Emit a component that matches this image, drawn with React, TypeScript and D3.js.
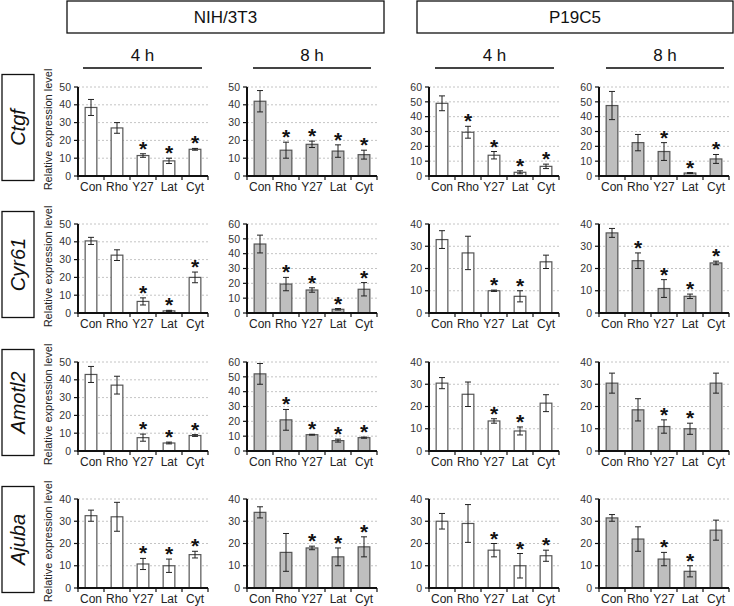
import React from "react";
import * as d3 from "d3";

const categories = ["Con", "Rho", "Y27", "Lat", "Cyt"];
const genes = ["Ctgf", "Cyr61", "Amotl2", "Ajuba"];
const cellLines = ["NIH/3T3", "P19C5"];
const times = ["4 h", "8 h", "4 h", "8 h"];

// values [col] -> per category mean
const ctgfMeans = [
  [38.5, 27, 11.5, 8.5, 15],
  [42, 14.5, 17.8, 14, 12],
  [49, 29.5, 14, 2.5, 6.5],
  [47.5, 22.5, 16.5, 2, 11.5],
];
const ctgfErr = [
  [4.5, 3, 1, 1.5, 0.5],
  [6, 4.5, 1.8, 3.5, 2.5],
  [5, 4, 2.5, 1, 1.5],
  [9.5, 5.5, 6, 0.3, 3],
];
const ctgfStars = [
  [0, 0, 1, 1, 1],
  [0, 1, 1, 1, 1],
  [0, 1, 1, 1, 1],
  [0, 0, 1, 1, 1],
];
const cyr61Means = [
  [40.5, 32.5, 6.5, 1.2, 20],
  [46.5, 19.5, 15.5, 2.5, 16],
  [33, 27, 10, 7.5, 23],
  [36, 23.5, 11, 7.5, 22.5],
];
const cyr61Err = [
  [2, 3, 2, 0.3, 3],
  [6, 4.5, 1.5, 0.5, 4.5],
  [4, 7.5, 0.3, 2.5, 3],
  [2, 3.5, 4, 1, 0.8],
];
const cyr61Stars = [
  [0, 0, 1, 1, 1],
  [0, 1, 1, 1, 1],
  [0, 0, 1, 1, 0],
  [0, 1, 1, 1, 1],
];
const amotl2Means = [
  [43, 37, 7.5, 4.5, 8.7],
  [52, 21, 11, 7, 9],
  [30.5, 25.5, 13.5, 9, 21.5],
  [30.5, 18.5, 11, 10, 30.5],
];
const amotl2Err = [
  [4.5, 5, 2, 0.5, 0.5],
  [7, 7, 0.3, 1, 0.4],
  [2.5, 5.5, 1, 1.8, 3.8],
  [4.5, 5, 3, 2.5, 4.5],
];
const amotl2Stars = [
  [0, 0, 1, 1, 1],
  [0, 1, 1, 1, 1],
  [0, 0, 1, 1, 0],
  [0, 0, 1, 1, 0],
];
const ajubaMeans = [
  [32.5, 32, 10.8, 10, 15],
  [34, 16, 18, 14, 18.5],
  [30, 29, 17, 10, 14.5],
  [31.5, 22, 13, 7.5, 26],
];
const ajubaErr = [
  [2.5, 6.5, 2.5, 3, 1.5],
  [2.5, 8.5, 0.8, 4, 4.5],
  [3.5, 8.5, 3, 5.5, 2.5],
  [1.5, 5.5, 3, 2.5, 4.5],
];
const ajubaStars = [
  [0, 0, 1, 1, 1],
  [0, 0, 1, 1, 1],
  [0, 0, 1, 1, 1],
  [0, 0, 1, 1, 0],
];

// y-axis maxima [row][col]
const yMax = [
  [50, 50, 60, 60],
  [50, 60, 40, 40],
  [50, 60, 40, 40],
  [40, 40, 40, 40],
];

const allMeans = [ctgfMeans, cyr61Means, amotl2Means, ajubaMeans];
const allErr = [ctgfErr, cyr61Err, amotl2Err, ajubaErr];
const allStars = [ctgfStars, cyr61Stars, amotl2Stars, ajubaStars];

// layout
const colX = [78, 247, 429, 599];
const rowY0 = [176, 313, 451, 588];
const plotW = 130;
const plotH = 89;
const FONT = "'Liberation Sans', Arial, sans-serif";

function Panel({ r, c }: { r: number; c: number }) {
  const x0 = colX[c];
  const y0 = rowY0[r];
  const x = d3.scaleBand<string>().domain(categories).range([x0, x0 + plotW]).padding(0);
  const y = d3.scaleLinear().domain([0, yMax[r][c]]).range([y0, y0 - plotH]);
  const ticks = d3.range(0, yMax[r][c] + 1, 10);
  const bw = x.bandwidth() * 0.45;
  const fill = c % 2 === 0 ? "#ffffff" : "#bebebe";
  const means = allMeans[r][c];
  const errs = allErr[r][c];
  const stars = allStars[r][c];
  const edges = [...categories.map((k) => x(k)!), x0 + plotW];
  return (
    <g>
      {ticks.filter((t) => t > 0).map((t) => (
        <line key={"g" + t} x1={x0} x2={x0 + plotW} y1={y(t)} y2={y(t)} stroke="#b5b5b5" strokeWidth={0.8} strokeDasharray="2,2" />
      ))}
      {categories.map((k, i) => {
        const cx = x(k)! + x.bandwidth() / 2;
        const m = means[i];
        const e = errs[i];
        return (
          <g key={k}>
            <rect x={cx - bw / 2} y={y(m)} width={bw} height={y0 - y(m)} fill={fill} stroke="#555" strokeWidth={1.2} />
            <line x1={cx} x2={cx} y1={y(m + e)} y2={y(Math.max(0, m - e))} stroke="#222" strokeWidth={1} />
            <line x1={cx - 3} x2={cx + 3} y1={y(m + e)} y2={y(m + e)} stroke="#222" strokeWidth={1} />
            <line x1={cx - 3} x2={cx + 3} y1={y(Math.max(0, m - e))} y2={y(Math.max(0, m - e))} stroke="#222" strokeWidth={1} />
            {stars[i] ? (
              <text x={cx} y={y(m + e) + 2} textAnchor="middle" fontSize={21} fontWeight="bold" fontFamily={FONT} fill="#111">*</text>
            ) : null}
            <text x={cx} y={y0 + 15} textAnchor="middle" fontSize={12} fontFamily={FONT} fill="#222">{k}</text>
          </g>
        );
      })}
      {ticks.map((t) => (
        <g key={"t" + t}>
          <line x1={x0 - 4} x2={x0} y1={y(t)} y2={y(t)} stroke="#111" strokeWidth={1.2} />
          <text x={x0 - 7} y={y(t)} dy="0.35em" textAnchor="end" fontSize={10.5} fontFamily={FONT} fill="#333">{t}</text>
        </g>
      ))}
      {edges.map((ex, i) => (
        <line key={"x" + i} x1={ex} x2={ex} y1={y0} y2={y0 + 4} stroke="#111" strokeWidth={1.2} />
      ))}
      <line x1={x0} x2={x0} y1={y0 + 1} y2={y0 - plotH} stroke="#111" strokeWidth={2} />
      <line x1={x0 - 1} x2={x0 + plotW} y1={y0} y2={y0} stroke="#111" strokeWidth={2} />
    </g>
  );
}

export default function App() {
  const headerBoxes = [
    { x1: 67, x2: 384 },
    { x1: 417, x2: 733 },
  ];
  const timeLines = [
    { x1: 83, x2: 202 },
    { x1: 253, x2: 371 },
    { x1: 435, x2: 554 },
    { x1: 606, x2: 724 },
  ];
  return (
    <svg width={734} height={606} style={{ position: "absolute", left: 0, top: 0, background: "#fff" }} fontFamily={FONT}>
      <rect x={0} y={0} width={734} height={606} fill="#fff" />
      {cellLines.map((name, i) => (
        <g key={name}>
          <rect x={headerBoxes[i].x1} y={1} width={headerBoxes[i].x2 - headerBoxes[i].x1} height={32} fill="#fff" stroke="#111" strokeWidth={1.3} />
          <text x={(headerBoxes[i].x1 + headerBoxes[i].x2) / 2} y={17} dy="0.36em" textAnchor="middle" fontSize={17} fill="#111">{name}</text>
        </g>
      ))}
      {times.map((t, i) => (
        <g key={"time" + i}>
          <text x={(timeLines[i].x1 + timeLines[i].x2) / 2} y={55} dy="0.36em" textAnchor="middle" fontSize={17} fill="#111">{t}</text>
          <line x1={timeLines[i].x1} x2={timeLines[i].x2} y1={68} y2={68} stroke="#444" strokeWidth={2} />
        </g>
      ))}
      {genes.map((g, r) => {
        const cy = rowY0[r] - plotH / 2 - 4;
        return (
          <g key={g}>
            <rect x={2} y={cy - 53} width={32} height={106} fill="#fff" stroke="#111" strokeWidth={1.3} />
            <text transform={`translate(18,${cy}) rotate(-90)`} dy="0.36em" textAnchor="middle" fontSize={20} fontStyle="italic" fill="#111">{g}</text>
            <text transform={`translate(48,${rowY0[r] - plotH / 2 - 2}) rotate(-90)`} dy="0.36em" textAnchor="middle" fontSize={11} fill="#222">Relative expression level</text>
          </g>
        );
      })}
      {genes.map((g, r) => [0, 1, 2, 3].map((c) => <Panel key={g + c} r={r} c={c} />))}
    </svg>
  );
}
